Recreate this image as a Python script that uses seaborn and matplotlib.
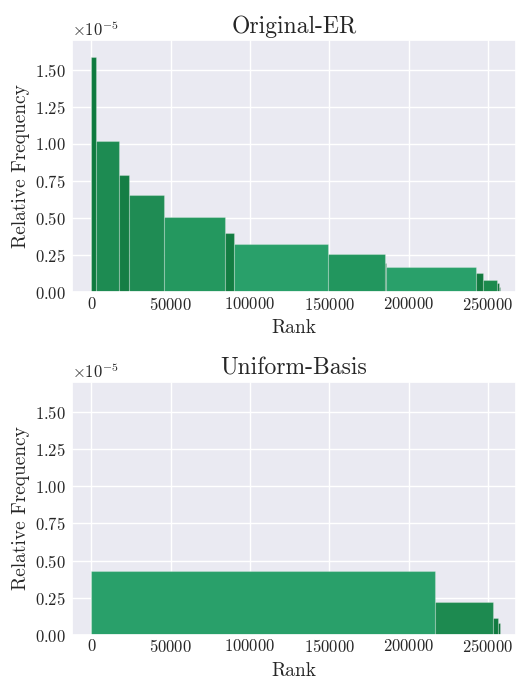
import matplotlib
matplotlib.use("Agg")
import matplotlib.pyplot as plt
from matplotlib.ticker import MultipleLocator
import seaborn as sns

# rank edges of each frequency block, and its relative frequency
er_edges = [0, 2700, 17400, 23700, 45600, 84200, 90100, 149000, 185100,
            185700, 242500, 246700, 255500, 256800, 257300]
er_freq = [1.583e-5, 1.019e-5, 0.790e-5, 0.654e-5, 0.508e-5, 0.397e-5,
           0.328e-5, 0.255e-5, 0.199e-5, 0.168e-5, 0.128e-5, 0.083e-5,
           0.060e-5, 0.038e-5]

ub_edges = [0, 216600, 253400, 256500, 257600]
ub_freq = [0.431e-5, 0.219e-5, 0.113e-5, 0.079e-5]

titles = ["Original-ER", "Uniform-Basis"]

# block colours
er_colors = ["#0e7a3e", "#1d8b52", "#157e45", "#1f8c54", "#24985f", "#137c42",
             "#29a06a", "#22965e", "#0b6e35", "#29a06a", "#137a40", "#1b8a4d",
             "#0d7038", "#0b6a34"]
ub_colors = ["#29a06a", "#1d8a50", "#117a40", "#0b6e35"]

sns.set_theme(style="darkgrid")
plt.rcParams["font.family"] = "serif"
plt.rcParams["font.serif"] = ["cmr10", "DejaVu Serif"]
plt.rcParams["mathtext.fontset"] = "cm"
plt.rcParams["axes.formatter.use_mathtext"] = True

fig = plt.figure(figsize=(5.16, 6.79), dpi=100)
ax1 = fig.add_axes([0.139, 0.5695, 0.861, 0.3715])
ax2 = fig.add_axes([0.139, 0.0648, 0.861, 0.373])

panels = [(ax1, er_edges, er_freq, er_colors), (ax2, ub_edges, ub_freq, ub_colors)]
for (ax, edges, freq, colors), title in zip(panels, titles):
    sns.histplot(x=edges[:-1], weights=freq, bins=edges, ax=ax, alpha=1,
                 edgecolor=(1, 1, 1, 0.25), linewidth=0.8)
    for patch, c in zip(ax.patches, colors):
        patch.set_facecolor(c)
    ax.set_xlim(-12400, 267700)
    ax.set_ylim(0, 1.70e-5)
    ax.yaxis.set_major_locator(MultipleLocator(0.25e-5))
    ax.xaxis.set_major_locator(MultipleLocator(50000))
    ax.ticklabel_format(axis="y", style="sci", scilimits=(0, 0))
    ax.yaxis.get_offset_text().set_fontsize(12)
    ax.tick_params(axis="x", labelsize=12, length=0, pad=2.5)
    ax.tick_params(axis="y", labelsize=12, length=0, pad=4)
    ax.set_title(title, fontsize=17, pad=5)
    ax.set_xlabel("Rank", fontsize=14, labelpad=4.5)
    ax.set_ylabel("Relative Frequency", fontsize=14, labelpad=4)

fig.savefig("out.png", dpi=100)
